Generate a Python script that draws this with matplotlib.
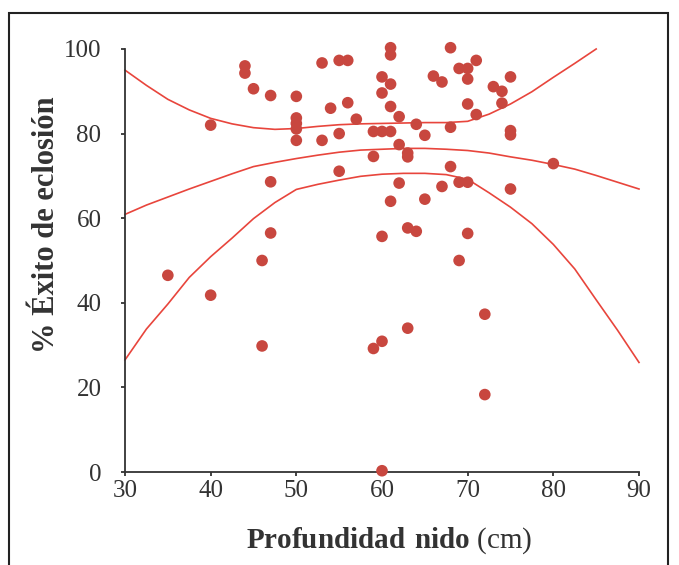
import matplotlib.pyplot as plt
import matplotlib.patches as patches

plt.rcParams['font.family'] = ['Liberation Serif', 'DejaVu Serif']
plt.rcParams['mathtext.fontset'] = 'custom'
plt.rcParams['mathtext.rm'] = 'Liberation Serif'
plt.rcParams['mathtext.bf'] = 'Liberation Serif:bold'

# nidos: profundidad (cm) y % de éxito de eclosión
profundidad = [35, 40, 40, 44, 44, 45, 46, 46, 47, 47, 47,
               50, 50, 50, 50, 50, 53, 53, 54, 55, 56, 55, 55, 56, 57,
               59, 60, 61, 59, 59, 60, 60, 60, 60, 60,
               61, 61, 61, 61, 61, 62, 62, 62, 63, 63, 63, 64, 63,
               64, 65, 65, 66, 67, 67, 68, 68, 68,
               69, 70, 70, 70, 69, 70, 69, 70, 71, 71, 72, 72,
               73, 74, 74, 75, 75, 75, 75, 80]
exito = [46.5, 82, 41.8, 96, 94.3, 90.6, 50, 29.8, 89, 68.6, 56.5,
         88.8, 83.7, 82.4, 81.1, 78.4, 96.7, 78.4, 86, 97.3, 97.3, 80, 71.1, 87.3, 83.4,
         80.5, 80.5, 80.5, 74.6, 29.2, 93.4, 89.6, 55.7, 30.9, 0.3,
         100.3, 98.6, 91.7, 86.4, 64, 84, 77.4, 68.3, 75.4, 74.5, 57.7, 56.9, 34,
         82.2, 79.6, 64.5, 93.6, 92.2, 67.5, 100.3, 81.5, 72.2,
         95.4, 95.4, 92.9, 87, 68.5, 68.5, 50, 56.4, 97.3, 84.5, 37.3, 18.3,
         91.1, 90, 87.2, 93.4, 80.7, 79.7, 66.9, 72.9]

# curvas (ajuste y banda de confianza)
curva_x = [30, 32.5, 35, 37.5, 40, 42.5, 45, 47.5, 50, 52.5, 55, 57.5, 60,
           62.5, 65, 67.5, 70, 72.5, 75, 77.5, 80, 82.5, 85, 87.5, 90]
ajuste = [60.9, 63.1, 65.0, 66.9, 68.7, 70.5, 72.2, 73.2, 74.1, 74.9, 75.6, 76.1, 76.3,
          76.5, 76.5, 76.3, 76.0, 75.4, 74.5, 73.7, 72.7, 71.6, 70.1, 68.5, 66.9]
inferior = [26.5, 33.8, 39.7, 46.0, 50.9, 55.3, 59.9, 63.7, 66.8, 68.0, 69.0, 69.9, 70.4,
            70.6, 70.6, 70.3, 69.2, 66.0, 62.6, 58.7, 53.8, 48.0, 40.7, 33.5, 25.9]
superior_x = curva_x[:23]
superior = [95.0, 91.4, 88.1, 85.6, 83.6, 82.3, 81.4, 81.0, 81.2, 81.7, 82.1, 82.3, 82.4,
            82.5, 82.6, 82.6, 82.9, 84.6, 87.0, 89.9, 93.3, 96.6, 100.0]

fig = plt.figure(figsize=(6.79, 5.65), dpi=100)
ax = fig.add_axes([0.1841, 0.1646, 0.757, 0.7487])

linea = '#e8453c'
ax.plot(curva_x, ajuste, color=linea, lw=1.2, clip_on=False)
ax.plot(curva_x, inferior, color=linea, lw=1.2, clip_on=False)
ax.plot(superior_x, superior, color=linea, lw=1.2, clip_on=False)
ax.scatter(profundidad, exito, s=70, color='#c8473f', edgecolors='none', zorder=3, clip_on=False)

ax.set_xlim(30, 90)
ax.set_ylim(0, 100)
ax.set_xticks(range(30, 91, 10))
ax.set_yticks(range(0, 101, 20))
for s in ['top', 'right']:
    ax.spines[s].set_visible(False)
for s in ['left', 'bottom']:
    ax.spines[s].set_color('#333333')
    ax.spines[s].set_linewidth(1.3)
ax.tick_params(direction='out', length=3, width=1.3, colors='#333333',
               labelsize=18, labelcolor='#333333')
ax.tick_params(axis='x', pad=3)
ax.tick_params(axis='y', pad=14)

fig.text(389 / 679, 1 - 548 / 565, r'$\mathbf{Profundidad\ nido}$ (cm)',
         fontsize=21, color='#333333', ha='center', va='baseline')
fig.text(54 / 679, 1 - 225 / 565, '% Éxito de eclosión', fontsize=22, fontweight='bold',
         color='#333333', rotation=90, rotation_mode='anchor', ha='center', va='baseline')

marco = patches.Rectangle((9 / 679, -0.05), 659 / 679, 1.05 - 13 / 565,
                          transform=fig.transFigure, fill=False, edgecolor='#222222',
                          lw=1.5, clip_on=False)
fig.patches.append(marco)

plt.savefig('out.png', dpi=100)
plt.close()
